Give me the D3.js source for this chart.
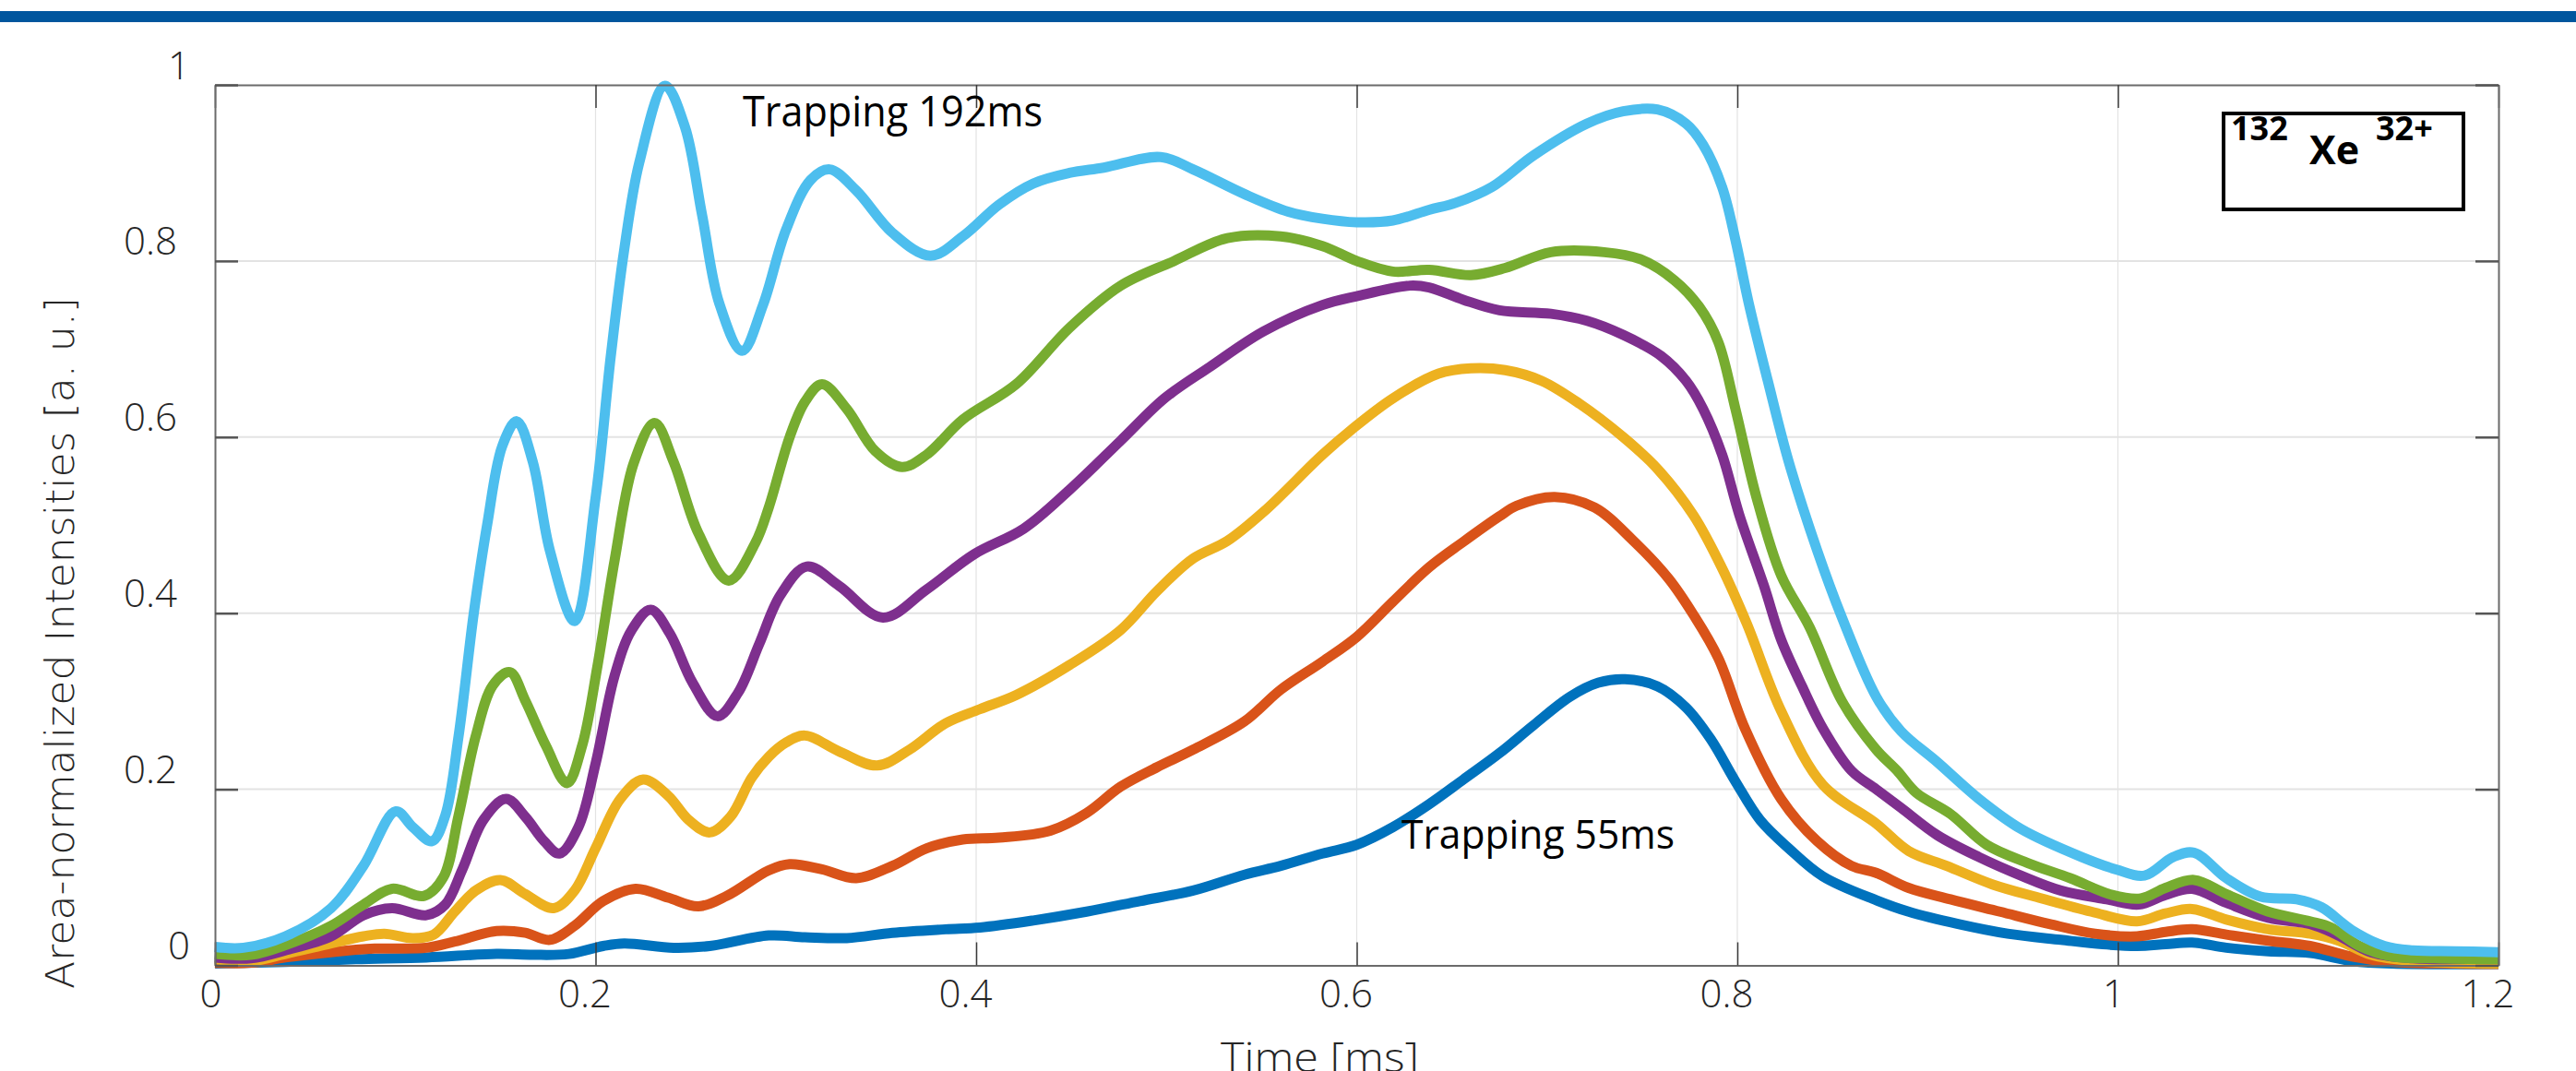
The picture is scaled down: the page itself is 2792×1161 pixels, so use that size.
<!DOCTYPE html>
<html lang="en">
  <head>
    <meta charset="utf-8">
    <title>Xe 32+ time profiles</title>
    <style>
      body { margin: 0; background: #fff; }
    </style>
  </head>
  <body>
  <script src="https://d3js.org/d3.v7.min.js"></script>
  <div id="chart"></div>

  <script>

  // time [ms] / area-normalized intensity
  var trap55 = [[0,0.002],[0.037,0.004],[0.074,0.007],[0.111,0.009],[0.148,0.013],[0.167,0.012],[0.186,0.013],[0.204,0.022],[0.215,0.025],[0.241,0.020],[0.260,0.022],[0.291,0.034],[0.310,0.032],[0.332,0.031],[0.356,0.037],[0.384,0.041],[0.402,0.043],[0.430,0.051],[0.458,0.061],[0.486,0.073],[0.514,0.085],[0.541,0.103],[0.560,0.113],[0.582,0.127],[0.600,0.137],[0.619,0.157],[0.638,0.183],[0.656,0.211],[0.675,0.241],[0.693,0.273],[0.712,0.305],[0.727,0.321],[0.741,0.325],[0.758,0.317],[0.773,0.293],[0.786,0.257],[0.799,0.209],[0.812,0.165],[0.827,0.133],[0.845,0.101],[0.873,0.074],[0.890,0.061],[0.916,0.047],[0.942,0.036],[0.970,0.029],[0.992,0.024],[1.010,0.022],[1.025,0.024],[1.039,0.026],[1.057,0.020],[1.079,0.016],[1.101,0.014],[1.123,0.005],[1.144,0.002],[1.2,0.0015]];

  var trapB = [[0,0.003],[0.019,0.003],[0.037,0.009],[0.061,0.015],[0.084,0.019],[0.111,0.020],[0.126,0.027],[0.148,0.039],[0.163,0.037],[0.176,0.029],[0.189,0.045],[0.204,0.073],[0.221,0.087],[0.238,0.077],[0.254,0.067],[0.269,0.079],[0.291,0.108],[0.302,0.115],[0.319,0.109],[0.337,0.099],[0.356,0.113],[0.374,0.133],[0.393,0.143],[0.412,0.145],[0.439,0.153],[0.458,0.173],[0.476,0.203],[0.495,0.225],[0.514,0.245],[0.541,0.277],[0.560,0.313],[0.582,0.345],[0.600,0.373],[0.619,0.413],[0.638,0.452],[0.656,0.481],[0.675,0.510],[0.684,0.522],[0.704,0.532],[0.725,0.520],[0.745,0.483],[0.764,0.439],[0.777,0.398],[0.790,0.349],[0.804,0.269],[0.823,0.189],[0.842,0.141],[0.860,0.113],[0.873,0.105],[0.890,0.088],[0.912,0.075],[0.938,0.061],[0.964,0.047],[0.988,0.036],[1.010,0.033],[1.025,0.038],[1.039,0.041],[1.057,0.035],[1.079,0.028],[1.101,0.022],[1.123,0.010],[1.144,0.004],[1.177,0.002],[1.2,0.0015]];

  var trapC = [[0,0.007],[0.019,0.005],[0.037,0.013],[0.061,0.025],[0.078,0.033],[0.089,0.036],[0.104,0.031],[0.115,0.035],[0.126,0.061],[0.137,0.085],[0.150,0.097],[0.163,0.081],[0.178,0.065],[0.189,0.085],[0.200,0.133],[0.213,0.189],[0.225,0.211],[0.238,0.193],[0.249,0.165],[0.260,0.151],[0.271,0.169],[0.282,0.213],[0.291,0.237],[0.300,0.253],[0.310,0.261],[0.328,0.243],[0.348,0.227],[0.365,0.245],[0.384,0.275],[0.402,0.291],[0.421,0.307],[0.449,0.341],[0.476,0.381],[0.495,0.425],[0.514,0.462],[0.532,0.482],[0.551,0.515],[0.582,0.580],[0.597,0.608],[0.619,0.644],[0.643,0.672],[0.660,0.678],[0.678,0.676],[0.697,0.664],[0.717,0.638],[0.740,0.600],[0.758,0.564],[0.777,0.511],[0.792,0.451],[0.805,0.388],[0.823,0.289],[0.845,0.205],[0.873,0.161],[0.890,0.130],[0.910,0.113],[0.934,0.092],[0.960,0.076],[0.986,0.061],[1.010,0.050],[1.025,0.059],[1.039,0.064],[1.057,0.052],[1.079,0.041],[1.101,0.036],[1.116,0.028],[1.133,0.012],[1.155,0.005],[1.2,0.002]];

  var trapD = [[0,0.009],[0.019,0.008],[0.037,0.017],[0.061,0.033],[0.078,0.057],[0.093,0.065],[0.111,0.057],[0.121,0.069],[0.130,0.109],[0.141,0.165],[0.153,0.189],[0.163,0.169],[0.173,0.141],[0.181,0.127],[0.191,0.157],[0.200,0.229],[0.210,0.329],[0.219,0.381],[0.229,0.404],[0.239,0.377],[0.251,0.321],[0.264,0.283],[0.275,0.310],[0.286,0.365],[0.297,0.420],[0.311,0.453],[0.328,0.431],[0.351,0.395],[0.374,0.427],[0.399,0.467],[0.425,0.496],[0.449,0.540],[0.476,0.596],[0.499,0.644],[0.523,0.680],[0.551,0.720],[0.582,0.750],[0.600,0.760],[0.628,0.772],[0.638,0.770],[0.656,0.756],[0.675,0.744],[0.702,0.740],[0.721,0.732],[0.740,0.716],[0.760,0.692],[0.773,0.664],[0.782,0.632],[0.792,0.580],[0.801,0.512],[0.814,0.431],[0.823,0.370],[0.834,0.317],[0.845,0.269],[0.860,0.221],[0.873,0.200],[0.886,0.179],[0.905,0.148],[0.927,0.123],[0.949,0.102],[0.970,0.085],[0.994,0.075],[1.011,0.069],[1.025,0.080],[1.039,0.087],[1.057,0.071],[1.079,0.054],[1.101,0.047],[1.114,0.036],[1.133,0.015],[1.155,0.008],[1.2,0.008]];

  var trapE = [[0,0.013],[0.019,0.012],[0.037,0.023],[0.061,0.045],[0.078,0.069],[0.093,0.087],[0.110,0.079],[0.120,0.100],[0.128,0.170],[0.137,0.260],[0.146,0.318],[0.155,0.333],[0.163,0.301],[0.174,0.249],[0.185,0.207],[0.193,0.250],[0.201,0.340],[0.210,0.460],[0.220,0.570],[0.231,0.616],[0.241,0.572],[0.254,0.491],[0.270,0.437],[0.284,0.480],[0.291,0.520],[0.302,0.600],[0.310,0.640],[0.319,0.660],[0.332,0.632],[0.347,0.584],[0.361,0.566],[0.374,0.580],[0.393,0.620],[0.421,0.660],[0.449,0.724],[0.476,0.772],[0.504,0.800],[0.532,0.826],[0.560,0.828],[0.582,0.817],[0.600,0.800],[0.619,0.788],[0.638,0.790],[0.660,0.784],[0.678,0.792],[0.702,0.810],[0.730,0.810],[0.749,0.802],[0.767,0.778],[0.780,0.748],[0.790,0.708],[0.799,0.632],[0.810,0.532],[0.823,0.443],[0.838,0.384],[0.855,0.300],[0.873,0.245],[0.884,0.221],[0.894,0.196],[0.912,0.172],[0.931,0.137],[0.953,0.116],[0.975,0.099],[0.997,0.080],[1.012,0.076],[1.025,0.088],[1.040,0.097],[1.057,0.081],[1.079,0.061],[1.101,0.050],[1.112,0.043],[1.127,0.022],[1.144,0.010],[1.166,0.008],[1.2,0.007]];

  var trap192 = [[0,0.021],[0.015,0.020],[0.037,0.033],[0.061,0.065],[0.078,0.113],[0.095,0.175],[0.104,0.157],[0.114,0.141],[0.121,0.170],[0.128,0.260],[0.136,0.400],[0.143,0.500],[0.151,0.590],[0.1586,0.618],[0.167,0.572],[0.176,0.471],[0.189,0.391],[0.200,0.531],[0.208,0.692],[0.215,0.812],[0.223,0.912],[0.2365,0.999],[0.247,0.952],[0.256,0.852],[0.265,0.752],[0.277,0.698],[0.288,0.750],[0.300,0.835],[0.313,0.892],[0.323,0.904],[0.337,0.880],[0.356,0.832],[0.376,0.806],[0.393,0.828],[0.412,0.864],[0.430,0.888],[0.449,0.900],[0.467,0.906],[0.497,0.918],[0.514,0.904],[0.541,0.876],[0.564,0.856],[0.582,0.848],[0.600,0.844],[0.619,0.846],[0.638,0.858],[0.652,0.866],[0.671,0.884],[0.693,0.920],[0.721,0.956],[0.740,0.970],[0.758,0.972],[0.773,0.956],[0.782,0.932],[0.792,0.884],[0.799,0.824],[0.806,0.752],[0.816,0.664],[0.827,0.572],[0.842,0.471],[0.855,0.395],[0.873,0.305],[0.886,0.266],[0.905,0.231],[0.927,0.189],[0.949,0.155],[0.981,0.123],[0.999,0.109],[1.014,0.102],[1.029,0.123],[1.040,0.128],[1.057,0.099],[1.075,0.078],[1.094,0.075],[1.107,0.066],[1.123,0.040],[1.140,0.022],[1.155,0.017],[1.177,0.016],[1.2,0.015]];

  var seriesList = [trap55, trapB, trapC, trapD, trapE, trap192];
  var seriesColors = ["#0072BD", "#D95319", "#EDB120", "#7E2F8E", "#77AC30", "#4DBEEE"];

  var xTicks = [0, 0.2, 0.4, 0.6, 0.8, 1, 1.2];
  var yTicks = [0, 0.2, 0.4, 0.6, 0.8, 1];

  var width = 2792, height = 1161;
  var plot = {left: 233, right: 2708, top: 92, bottom: 1046.5};

  var svg = d3.select("#chart")
    .append("svg")
      .attr("width", width)
      .attr("height", height)
      .style("display", "block")
      .style("background", "#fff");

  // header bar
  svg.append("rect")
    .attr("x", 0).attr("y", 12)
    .attr("width", width).attr("height", 12)
    .attr("fill", "#00569E");

  var x = d3.scaleLinear().domain([0, 1.2]).range([plot.left, plot.right]);
  var y = d3.scaleLinear().domain([0, 1]).range([plot.bottom, plot.top]);

  // grid
  svg.append("g")
    .selectAll("line")
    .data(xTicks.slice(1, -1))
    .enter()
    .append("line")
      .attr("x1", function(d){ return x(d) }).attr("x2", function(d){ return x(d) })
      .attr("y1", plot.top).attr("y2", plot.bottom)
      .attr("stroke", "#e3e3e3").attr("stroke-width", 1.2);

  svg.append("g")
    .selectAll("line")
    .data(yTicks.slice(1, -1))
    .enter()
    .append("line")
      .attr("x1", plot.left).attr("x2", plot.right)
      .attr("y1", function(d){ return y(d) }).attr("y2", function(d){ return y(d) })
      .attr("stroke", "#e3e3e3").attr("stroke-width", 2);

  // curves
  var line = d3.line()
    .x(function(d){ return x(d[0]) })
    .y(function(d){ return y(d[1]) })
    .curve(d3.curveCatmullRom.alpha(0.5));

  svg.append("g")
    .selectAll("path")
    .data(seriesList)
    .enter()
    .append("path")
      .attr("d", line)
      .attr("fill", "none")
      .attr("stroke", function(d, i){ return seriesColors[i] })
      .attr("stroke-width", 11)
      .attr("stroke-linejoin", "round");

  // axes (ticks pointing inwards)
  var fmt = function(d){ return String(d) };

  var gBottom = svg.append("g")
    .attr("transform", "translate(0," + plot.bottom + ")")
    .call(d3.axisBottom(x).tickValues(xTicks).tickFormat(fmt).tickSizeInner(-25).tickSizeOuter(0).tickPadding(16));
  var gTop = svg.append("g")
    .attr("transform", "translate(0," + plot.top + ")")
    .call(d3.axisTop(x).tickValues(xTicks).tickFormat("").tickSizeInner(-25).tickSizeOuter(0));
  var gLeft = svg.append("g")
    .attr("transform", "translate(" + plot.left + ",0)")
    .call(d3.axisLeft(y).tickValues(yTicks).tickFormat(fmt).tickSizeInner(-25).tickSizeOuter(0));
  var gRight = svg.append("g")
    .attr("transform", "translate(" + plot.right + ",0)")
    .call(d3.axisRight(y).tickValues(yTicks).tickFormat("").tickSizeInner(-25).tickSizeOuter(0));

  [gBottom, gTop, gLeft, gRight].forEach(function(g){
    g.select(".domain").attr("stroke", "#6b6b6b").attr("stroke-width", 2);
    g.selectAll(".tick line").attr("stroke", "#3a3a3a").attr("stroke-width", 1.5);
  });
  [gLeft, gRight].forEach(function(g){
    g.selectAll(".tick line").attr("stroke", "#555").attr("stroke-width", 2.5);
  });

  gBottom.selectAll(".tick text")
    .attr("font-family", "'Open Sans', 'Noto Sans', sans-serif")
    .attr("font-weight", 300)
    .attr("font-size", "42px")
    .attr("fill", "#262626")
    .attr("dx", function(d){ return String(d).length === 1 ? -5 : -12 });

  gLeft.selectAll(".tick text")
    .attr("font-family", "'Open Sans', 'Noto Sans', sans-serif")
    .attr("font-weight", 300)
    .attr("font-size", "42px")
    .attr("fill", "#262626")
    .attr("x", function(d){ return String(d).length === 1 ? -27 : -41 })
    .attr("dy", 0)
    .attr("y", -7);

  svg.selectAll("g text").filter(function(){ return this.textContent === "" }).remove();

  // axis titles (x title runs off the bottom edge, as in the original)
  svg.append("text")
    .attr("x", 1323)
    .attr("y", 1162)
    .attr("font-family", "'Open Sans', 'Noto Sans', sans-serif")
    .attr("font-weight", 300)
    .attr("font-size", "45px")
    .attr("fill", "#262626")
    .attr("textLength", 215)
    .attr("lengthAdjust", "spacingAndGlyphs")
    .text("Time [ms]");

  svg.append("text")
    .attr("transform", "translate(80,697) rotate(-90)")
    .attr("text-anchor", "middle")
    .attr("font-family", "'DejaVu Sans', sans-serif")
    .attr("font-weight", 200)
    .attr("font-size", "43px")
    .attr("fill", "#262626")
    .attr("textLength", 750)
    .attr("lengthAdjust", "spacingAndGlyphs")
    .text("Area-normalized Intensities [a. u.]");

  // annotations
  svg.append("text")
    .attr("x", 805)
    .attr("y", 137)
    .attr("font-family", "'Open Sans', 'Noto Sans', sans-serif")
    .attr("font-size", "45px")
    .attr("fill", "#000")
    .attr("textLength", 325)
    .attr("lengthAdjust", "spacingAndGlyphs")
    .text("Trapping 192ms");

  svg.append("text")
    .attr("x", 1519)
    .attr("y", 920)
    .attr("font-family", "'Open Sans', 'Noto Sans', sans-serif")
    .attr("font-size", "44px")
    .attr("fill", "#000")
    .attr("textLength", 296)
    .attr("lengthAdjust", "spacingAndGlyphs")
    .text("Trapping 55ms");

  // ion label box
  var box = svg.append("g");
  box.append("rect")
    .attr("x", 2410).attr("y", 123)
    .attr("width", 260).attr("height", 104)
    .attr("fill", "#fff")
    .attr("stroke", "#000")
    .attr("stroke-width", 4);
  box.append("text")
    .attr("x", 2418).attr("y", 152)
    .attr("font-family", "'Open Sans', 'Noto Sans', sans-serif")
    .attr("font-weight", 700)
    .attr("font-size", "36px")
    .text("132");
  box.append("text")
    .attr("x", 2503).attr("y", 178)
    .attr("font-family", "'Open Sans', 'Noto Sans', sans-serif")
    .attr("font-weight", 700)
    .attr("font-size", "43px")
    .text("Xe");
  box.append("text")
    .attr("x", 2575).attr("y", 152)
    .attr("font-family", "'Open Sans', 'Noto Sans', sans-serif")
    .attr("font-weight", 700)
    .attr("font-size", "36px")
    .text("32+");

  </script>
</body>
</html>
